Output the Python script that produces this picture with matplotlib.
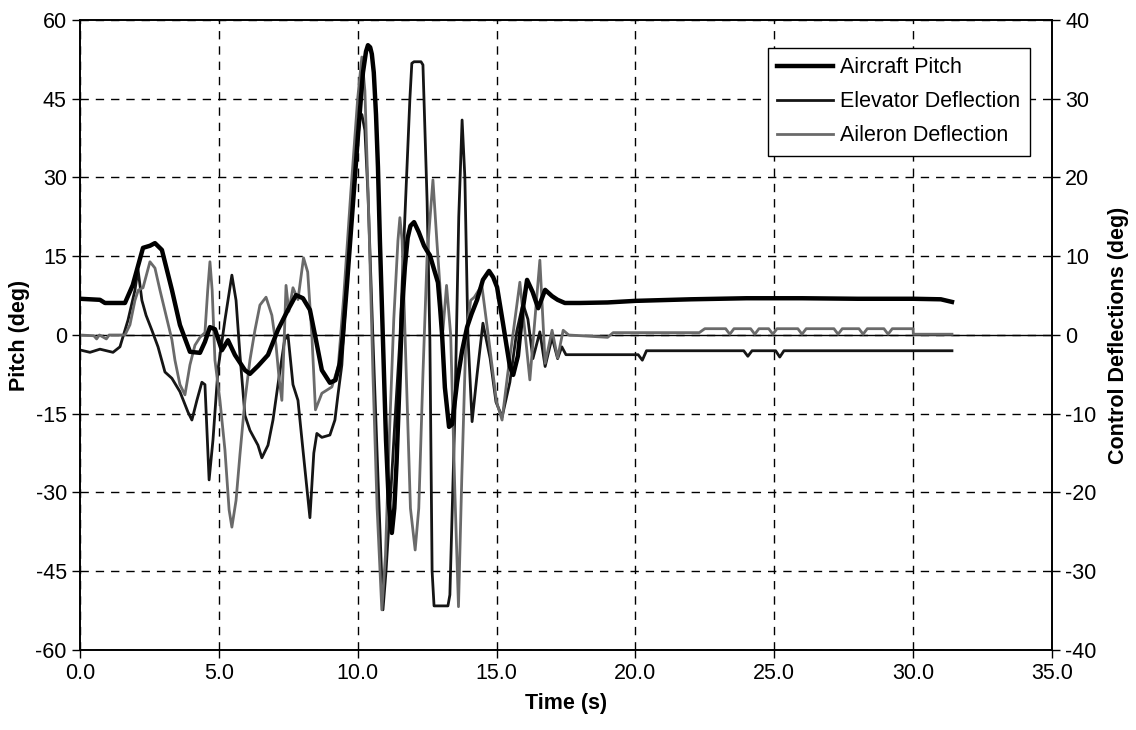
import numpy as np
import matplotlib.pyplot as plt

plt.rcParams['font.family'] = ['Liberation Sans', 'DejaVu Sans']
plt.rcParams['axes.unicode_minus'] = False

# Aircraft pitch (deg), left axis
t_pitch = [0.0, 0.72, 0.9, 1.62, 1.9, 2.27, 2.52, 2.7, 2.95, 3.31, 3.6, 3.96, 4.32, 4.5,
           4.68, 4.86, 5.11, 5.33, 5.58, 5.94, 6.12, 6.41, 6.77, 7.13, 7.49, 7.78, 8.03,
           8.28, 8.5, 8.71, 9.0, 9.2, 9.36, 9.47, 9.62, 9.76, 9.9, 10.01, 10.19, 10.3,
           10.37, 10.45, 10.51, 10.58, 10.66, 10.73, 10.8, 10.91, 11.02, 11.12, 11.23,
           11.32, 11.4, 11.5, 11.6, 11.7, 11.8, 11.9, 12.03, 12.2, 12.39, 12.5, 12.6,
           12.75, 12.89, 12.97, 13.04, 13.14, 13.29, 13.4, 13.58, 13.76, 13.94, 14.1,
           14.3, 14.51, 14.73, 14.88, 15.02, 15.23, 15.48, 15.6, 15.77, 15.92, 16.1,
           16.3, 16.5, 16.75, 17.0, 17.2, 17.46, 18.0, 19.0, 20.0, 22.0, 24.0, 26.0,
           28.0, 30.0, 31.0, 31.4]
pitch = [6.9, 6.7, 6.1, 6.1, 9.5, 16.6, 17.0, 17.5, 16.2, 8.6, 1.9, -3.2, -3.4, -1.3,
         1.5, 1.1, -2.9, -1.0, -3.8, -6.7, -7.4, -5.9, -3.8, 1.0, 4.8, 7.6, 7.0,
         4.8, -1.0, -6.7, -9.1, -8.6, -5.3, 0.0, 10.0, 20.0, 30.0, 38.0, 50.0, 54.0,
         55.2, 54.8, 53.5, 50.0, 42.0, 32.0, 18.0, -1.0, -20.0, -32.0, -37.7,
         -33.0, -24.4, -10.0, 5.0, 13.0, 18.5, 20.8, 21.5, 19.6, 17.0, 16.0, 15.2,
         12.5, 10.0, 5.0, 0.0, -10.0, -17.5, -17.0, -9.0, -3.0, 1.5, 4.0,
         6.7, 10.5, 12.2, 11.0, 9.1, 2.3, -6.0, -7.6, -4.0, 4.0, 10.5,
         8.2, 5.1, 8.6, 7.4, 6.7, 6.1, 6.1, 6.2, 6.5, 6.8, 7.0, 7.0,
         6.9, 6.9, 6.8, 6.3]

# Elevator deflection (deg), right axis
t_elev = [0.0, 0.36, 0.72, 1.19, 1.44, 1.73, 1.98, 2.09, 2.23, 2.38, 2.59, 2.81, 3.06,
          3.31, 3.6, 3.89, 4.03, 4.21, 4.39, 4.5, 4.65, 4.79, 4.97, 5.22, 5.47, 5.62,
          5.76, 5.94, 6.12, 6.41, 6.55, 6.77, 6.95, 7.13, 7.37, 7.49, 7.67, 7.85, 8.03,
          8.28, 8.42, 8.53, 8.71, 9.0, 9.18, 9.29, 9.43, 9.65, 9.87, 10.08, 10.15,
          10.26, 10.37, 10.55, 10.73, 10.91, 11.02, 11.16, 11.34, 11.52, 11.7, 11.88,
          11.95, 12.03, 12.28, 12.35, 12.5, 12.6, 12.68, 12.75, 13.25, 13.32, 13.5,
          13.64, 13.76, 13.86, 13.97, 14.12, 14.3, 14.51, 14.77, 14.98, 15.2, 15.48,
          15.73, 15.95, 16.13, 16.31, 16.56, 16.75, 17.0, 17.2, 17.35, 17.5, 20.0,
          20.1, 20.25, 20.4, 23.9, 24.05, 24.2, 25.05, 25.2, 25.35, 31.4]
elev = [-1.9, -2.2, -1.8, -2.2, -1.5, 1.9, 5.7, 8.3, 4.4, 2.5, 0.6, -1.5, -4.7,
        -5.5, -7.2, -9.8, -10.8, -8.3, -6.0, -6.3, -18.4, -13.3, -4.4, 1.9, 7.6, 4.4,
        -2.5, -10.2, -12.1, -14.0, -15.6, -14.0, -10.8, -6.3, -0.6, 0.0, -6.3, -8.3, -14.6,
        -23.2, -15.0, -12.5, -13.0, -12.7, -10.8, -7.6, -3.8, 9.0, 20.0, 27.5, 28.0,
        26.0, 18.0, -0.6, -18.0, -34.9, -30.0, -22.0, -11.0, -0.6, 15.0, 30.0,
        34.5, 34.7, 34.7, 34.3, 17.0, -0.6, -30.0, -34.4, -34.4, -33.0, -10.0,
        15.0, 27.3, 20.0, 0.0, -11.0, -5.0, 1.5, -3.0, -8.5, -10.4, -6.0,
        0.5, 4.0, 2.0, -3.0, 0.4, -4.0, -0.3, -3.0, -1.5, -2.5, -2.5,
        -2.5, -3.2, -2.0, -2.0, -2.7, -2.0, -2.0, -2.8, -2.0, -2.0]

# Aileron deflection (deg), right axis
t_ail = [0.0, 0.5, 0.6, 0.7, 0.95, 1.05, 1.15, 1.62, 1.8, 1.98, 2.1, 2.27, 2.52, 2.7,
         2.88, 3.1, 3.31, 3.42, 3.6, 3.78, 3.96, 4.14, 4.32, 4.5, 4.6, 4.68, 4.76,
         4.86, 5.04, 5.22, 5.37, 5.47, 5.62, 5.76, 5.94, 6.12, 6.3, 6.48, 6.7, 6.91,
         7.06, 7.17, 7.27, 7.35, 7.42, 7.52, 7.67, 7.85, 8.05, 8.2, 8.35, 8.48, 8.71,
         9.07, 9.3, 9.5, 9.75, 10.0, 10.15, 10.26, 10.4, 10.55, 10.7, 10.87, 11.0,
         11.15, 11.3, 11.45, 11.52, 11.6, 11.75, 11.9, 12.07, 12.2, 12.35, 12.5,
         12.71, 12.85, 13.07, 13.2, 13.35, 13.5, 13.63, 13.75, 13.9, 14.07, 14.2,
         14.47, 14.7, 15.0, 15.2, 15.4, 15.84, 16.2, 16.56, 16.75, 17.0, 17.2, 17.4,
         17.6, 19.0, 19.2, 22.3, 22.5, 23.25, 23.4, 23.55, 24.15, 24.3, 24.45,
         24.8, 24.95, 25.1, 25.85, 26.0, 26.15, 27.15, 27.3, 27.45, 28.05, 28.2,
         28.35, 28.95, 29.1, 29.25, 30.0, 30.01, 31.4]
ail = [0.0, -0.1, -0.5, 0.0, -0.5, 0.0, 0.0, 0.0, 1.3, 4.4, 5.7, 6.0, 9.3, 8.5,
       5.7, 2.5, -0.6, -3.2, -6.3, -7.6, -3.8, -1.3, -0.3, 0.3, 5.7, 9.3, 5.7,
       -3.2, -8.3, -14.6, -22.2, -24.4, -21.0, -15.2, -8.3, -3.2, 0.6, 3.8, 4.8, 2.5,
       -1.3, -5.5, -8.3, -1.0, 6.3, 3.0, 6.0, 4.5, 9.8, 8.0, 0.0, -9.5, -7.4,
       -6.6, -4.0, 5.0, 18.0, 30.0, 35.3, 31.0, 15.0, -5.0, -22.0, -34.9, -28.0,
       -12.0, 2.0, 12.0, 14.9, 12.0, -5.0, -22.0, -27.3, -22.0, -5.0, 10.0,
       19.7, 12.0, 0.6, 6.3, 0.0, -20.0, -34.5, -18.0, 0.0, 4.4, 4.8,
       6.3, 0.0, -8.5, -10.8, -5.0, 6.7, -5.7, 9.5, -3.6, 0.6, -2.9, 0.6,
       0.0, -0.3, 0.3, 0.3, 0.8, 0.8, 0.1, 0.8, 0.8, 0.1, 0.8,
       0.8, 0.1, 0.8, 0.8, 0.1, 0.8, 0.8, 0.1, 0.8, 0.8, 0.1,
       0.8, 0.8, 0.1, 0.8, 0.8, 0.1, 0.1]

fig, ax1 = plt.subplots(figsize=(11.36, 7.3), dpi=100)
fig.subplots_adjust(left=0.0704, right=0.926, bottom=0.1096, top=0.9726)
ax2 = ax1.twinx()

# grid and zero line
ax1.set_xlim(0, 35)
ax1.set_ylim(-60, 60)
ax2.set_ylim(-40, 40)
ax1.set_xticks(np.arange(0, 35.1, 5))
ax1.set_xticklabels([f'{v:.1f}' for v in np.arange(0, 35.1, 5)])
ax1.set_yticks(np.arange(-60, 61, 15))
ax2.set_yticks(np.arange(-40, 41, 10))
ax1.grid(True, color='black', linestyle=(0, (6, 5)), linewidth=1.0)
ax1.axhline(0, color='black', linewidth=1.0, zorder=1)

ln_e, = ax2.plot(t_elev, elev, color='#151515', linewidth=2.0, solid_joinstyle='round')
ln_a, = ax2.plot(t_ail, ail, color='#6a6a6a', linewidth=2.0, solid_joinstyle='round')
ln_p, = ax2.plot([], [], color='black', linewidth=3.2)
# pitch is drawn on the control axis, rescaled 60 -> 40
ax2.plot(np.array(t_pitch), np.array(pitch) * 40 / 60, color='black', linewidth=3.2,
         solid_joinstyle='round')

for ax in (ax1, ax2):
    ax.tick_params(labelsize=15.5, direction='out', length=6, width=1, colors='black')
    for s in ax.spines.values():
        s.set_linewidth(1.2)

ax1.set_xlabel('Time (s)', fontsize=15.5, fontweight='bold', labelpad=6)
ax1.set_ylabel('Pitch (deg)', fontsize=15.5, fontweight='bold', labelpad=4)
ax2.set_ylabel('Control Deflections (deg)', fontsize=15.5, fontweight='bold', labelpad=8)

leg = ax2.legend([ln_p, ln_e, ln_a],
                 ['Aircraft Pitch', 'Elevator Deflection', 'Aileron Deflection'],
                 loc='upper right', bbox_to_anchor=(0.977, 0.956), borderaxespad=0,
                 fontsize=15.5, fancybox=False, framealpha=1, edgecolor='black',
                 handlelength=2.6, handletextpad=0.3, labelspacing=0.6,
                 borderpad=0.45)
leg.get_frame().set_linewidth(1.0)

plt.savefig('out.png', dpi=100)
